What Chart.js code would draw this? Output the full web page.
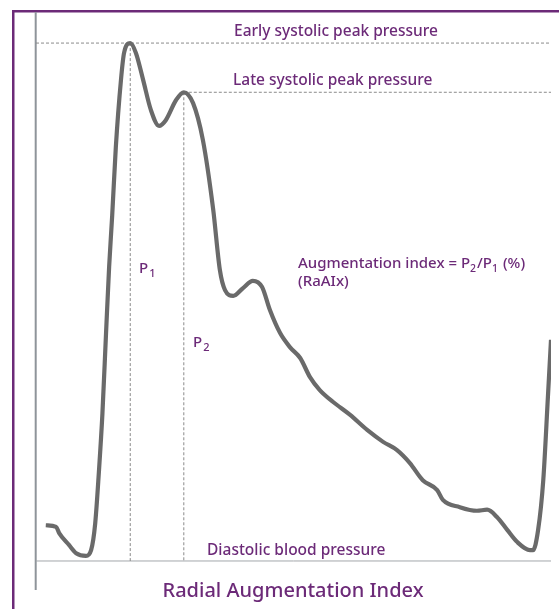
<!DOCTYPE html>
<html>
<head>
<meta charset="utf-8">
<script src="https://cdn.jsdelivr.net/npm/chart.js@4/dist/chart.umd.min.js"></script>
<style>
  html, body { margin: 0; padding: 0; background: #fff; }
  #wrap { position: relative; width: 559px; height: 609px; }
</style>
</head>
<body>
<div id="wrap"><canvas id="raiChart" width="559" height="609"></canvas></div>
<script>
// radial pulse wave (time 0-100, pressure 0 = diastolic, 100 = early systolic peak)
const pulseTime = [1.9, 3.9, 4.5, 6.4, 7.8, 9.7, 10.7, 11.5, 12.2, 12.9, 13.6, 14.2, 14.8, 15.5, 16.5, 17.1,
  18.3, 19.4, 20.8, 22.3, 23.9, 25.2, 27.2, 28.7, 30.5, 32.4, 34.4, 35.7, 36.7, 38.3, 40.2, 42.1,
  43.9, 45.4, 47.4, 49.3, 51.3, 53.2, 55.1, 57.7, 61.0, 64.3, 67.4, 70.1, 72.6, 75.1, 77.9, 79.0,
  82.3, 85.6, 87.6, 89.5, 91.5, 93.4, 95.9, 96.5, 97.5, 98.5, 99.4, 100];
const pulsePressure = [6.9, 6.6, 5.4, 3.1, 1.5, 1.0, 2.1, 7.3, 17.0, 28.5, 44.0, 56.8, 66.8, 79.9, 92.9, 98.1,
  100, 98.1, 92.9, 87.1, 84.0, 85.1, 89.0, 90.5, 88.4, 81.3, 67.9, 56.2, 52.3, 51.2, 52.7, 54.1,
  52.9, 48.5, 44.0, 41.3, 39.2, 35.5, 33.0, 30.7, 28.2, 25.3, 23.0, 21.4, 18.9, 15.6, 13.7, 11.8,
  10.4, 9.7, 9.9, 8.5, 6.0, 3.7, 2.1, 2.1, 6.0, 15.6, 31.7, 42.7];

// P1 = early systolic peak, P2 = late systolic peak
const peakTimes = [18.3, 28.7];
const peakPressures = [100, 90.5];
const diastolicLevel = 0;
const timeRange = [0, 100];
const pressureRange = [-5.6, 106];

const PURPLE = '#6c2a78';
const FONT = '"Noto Sans", "Open Sans", sans-serif';

function drawLabel(ctx, text, x, y, size, sub) {
  ctx.font = '500 ' + size + 'px ' + FONT;
  ctx.fillText(text, x, y);
  if (sub) {
    const w = ctx.measureText(text).width;
    ctx.font = '500 ' + Math.round(size * 0.7) + 'px ' + FONT;
    ctx.fillText(sub, x + w + 1, y + 4);
  }
}

// cadre violet + axe vertical + textes
const decorPlugin = {
  id: 'decor',
  beforeDraw(chart) {
    const ctx = chart.ctx;
    const area = chart.chartArea;
    ctx.save();
    ctx.fillStyle = PURPLE;
    ctx.fillRect(12, 10, 2.5, 609);
    ctx.fillRect(12, 10, 547, 2.5);
    ctx.strokeStyle = '#8e949a';
    ctx.lineWidth = 2;
    ctx.beginPath();
    ctx.moveTo(area.left - 0.3, area.top);
    ctx.lineTo(area.left - 0.3, area.bottom);
    ctx.stroke();
    ctx.restore();
  },
  afterDraw(chart) {
    const ctx = chart.ctx;
    ctx.save();
    ctx.fillStyle = PURPLE;
    ctx.textBaseline = 'alphabetic';
    ctx.textAlign = 'left';
    drawLabel(ctx, 'Early systolic peak pressure', 234, 36, 15.5);
    drawLabel(ctx, 'Late systolic peak pressure', 233, 85, 15.5);
    drawLabel(ctx, 'P', 139, 273, 15, '1');
    drawLabel(ctx, 'P', 193, 347, 15, '2');
    // formule avec indices
    let x = 298;
    const parts = [['Augmentation index = P', false], ['2', true], ['/P', false], ['1', true], [' (%)', false]];
    parts.forEach(p => {
      ctx.font = '500 ' + (p[1] ? 10.5 : 15) + 'px ' + FONT;
      ctx.fillText(p[0], x, p[1] ? 272 : 268);
      x += ctx.measureText(p[0]).width + (p[1] ? 1 : 0);
    });
    ctx.font = '500 15px ' + FONT;
    ctx.fillText('(RaAIx)', 298, 286);
    drawLabel(ctx, 'Diastolic blood pressure', 207, 555, 15.5);
    ctx.textAlign = 'center';
    ctx.font = '500 20px ' + FONT;
    ctx.fillText('Radial Augmentation Index', 293, 597);
    ctx.restore();
  }
};

const pulseData = pulseTime.map((t, i) => ({ x: t, y: pulsePressure[i] }));
const dashStyle = { borderColor: '#8a8a8a', borderWidth: 1, borderDash: [3, 2], pointRadius: 0, fill: false, tension: 0 };

new Chart(document.getElementById('raiChart').getContext('2d'), {
  type: 'line',
  data: {
    datasets: [
      {
        label: 'Radial pulse',
        data: pulseData,
        borderColor: '#6a6a6a',
        borderWidth: 4.2,
        pointRadius: 0,
        cubicInterpolationMode: 'monotone',
        fill: false,
        order: 0
      },
      Object.assign({ data: [{ x: timeRange[0], y: peakPressures[0] }, { x: timeRange[1], y: peakPressures[0] }], order: 1 }, dashStyle),
      Object.assign({ data: [{ x: peakTimes[1], y: peakPressures[1] }, { x: timeRange[1], y: peakPressures[1] }], order: 1 }, dashStyle),
      Object.assign({ data: [{ x: peakTimes[0], y: peakPressures[0] }, { x: peakTimes[0], y: diastolicLevel }], order: 1 }, dashStyle),
      Object.assign({ data: [{ x: peakTimes[1], y: peakPressures[1] }, { x: peakTimes[1], y: diastolicLevel }], order: 1 }, dashStyle),
      {
        data: [{ x: timeRange[0], y: diastolicLevel }, { x: timeRange[1], y: diastolicLevel }],
        borderColor: '#a3a7ab',
        borderWidth: 1,
        pointRadius: 0,
        fill: false,
        order: 2
      }
    ]
  },
  options: {
    responsive: false,
    animation: false,
    layout: { padding: { left: 36, right: 8, top: 12, bottom: 19 } },
    scales: {
      x: { type: 'linear', min: timeRange[0], max: timeRange[1], display: false },
      y: { type: 'linear', min: pressureRange[0], max: pressureRange[1], display: false }
    },
    plugins: {
      legend: { display: false },
      tooltip: { enabled: false }
    }
  },
  plugins: [decorPlugin]
});
</script>
</body>
</html>
